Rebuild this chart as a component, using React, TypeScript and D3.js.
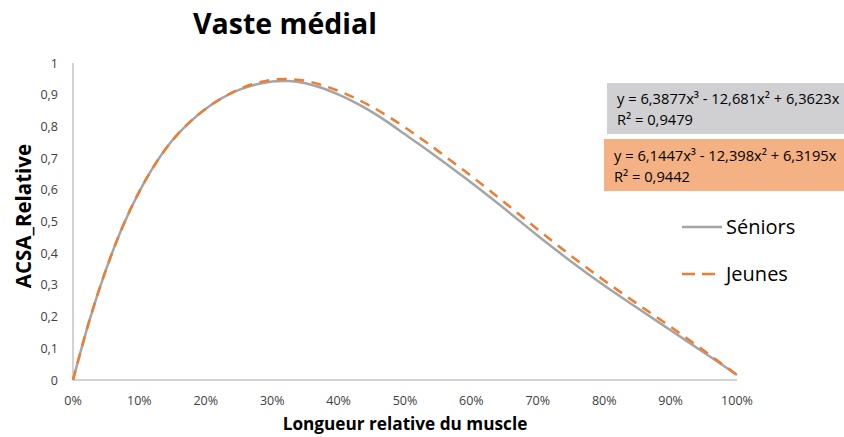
import React from "react";
import * as d3 from "d3";

const xValues = [0, 0.025, 0.05, 0.075, 0.1, 0.125, 0.15, 0.175, 0.2, 0.225, 0.25, 0.275, 0.3, 0.325, 0.35, 0.375, 0.4, 0.425, 0.45, 0.475, 0.5, 0.525, 0.55, 0.6, 0.65, 0.7, 0.75, 0.8, 0.85, 0.9, 0.95, 1.0];
const seniors = [0, 0.19, 0.35, 0.485, 0.595, 0.685, 0.757, 0.812, 0.856, 0.89, 0.915, 0.932, 0.942, 0.943, 0.936, 0.921, 0.9, 0.875, 0.846, 0.812, 0.775, 0.738, 0.7, 0.622, 0.54, 0.455, 0.374, 0.298, 0.227, 0.157, 0.087, 0.016];
const jeunes = [0, 0.19, 0.35, 0.485, 0.595, 0.685, 0.757, 0.812, 0.856, 0.89, 0.917, 0.936, 0.947, 0.949, 0.944, 0.93, 0.912, 0.889, 0.862, 0.831, 0.797, 0.76, 0.722, 0.643, 0.56, 0.475, 0.392, 0.314, 0.24, 0.168, 0.093, 0.016];
const yTicks = [0, 0.1, 0.2, 0.3, 0.4, 0.5, 0.6, 0.7, 0.8, 0.9, 1];
const xTicks = [0, 0.1, 0.2, 0.3, 0.4, 0.5, 0.6, 0.7, 0.8, 0.9, 1];
const seriesNames = ["Séniors", "Jeunes"];
const equations = [
  ["y = 6,3877x³ - 12,681x² + 6,3623x", "R² = 0,9479"],
  ["y = 6,1447x³ - 12,398x² + 6,3195x", "R² = 0,9442"],
];
const title = "Vaste médial";
const xTitle = "Longueur relative du muscle";
const yTitle = "ACSA_Relative";

const W = 844, H = 437;
const FONT = "'Open Sans', 'DejaVu Sans', sans-serif";

export default function App() {
  const x = d3.scaleLinear().domain([0, 1]).range([73, 737]);
  const y = d3.scaleLinear().domain([0, 1]).range([380, 63]);
  const line = d3.line<[number, number]>().x(d => x(d[0])).y(d => y(d[1])).curve(d3.curveCatmullRom);
  const sData = xValues.map((v, i) => [v, seniors[i]] as [number, number]);
  const jData = xValues.map((v, i) => [v, jeunes[i]] as [number, number]);
  const fmtY = (v: number) => (v === 0 ? "0" : v === 1 ? "1" : d3.format(".1f")(v).replace(".", ","));
  const fmtX = (v: number) => `${Math.round(v * 100)}%`;

  return (
    <svg width={W} height={H} style={{ position: "absolute", left: 0, top: 0, background: "#fff" }} fontFamily={FONT}>
      <rect width={W} height={H} fill="#fff" />
      <text x={285} y={34} textAnchor="middle" fontSize={28.5} fontWeight="bold" fill="#000">{title}</text>
      <line x1={x(0)} x2={x(0)} y1={y(1)} y2={y(0)} stroke="#a6a6a6" strokeWidth={1} />
      <line x1={x(0)} x2={x(1)} y1={y(0)} y2={y(0)} stroke="#a6a6a6" strokeWidth={1} />
      {yTicks.map(t => (
        <text key={"y" + t} x={58} y={y(t) + 4.5} textAnchor="end" fontSize={12.5} fill="#404040">{fmtY(t)}</text>
      ))}
      {xTicks.map(t => (
        <text key={"x" + t} x={x(t)} y={405} textAnchor="middle" fontSize={12.5} fill="#404040">{fmtX(t)}</text>
      ))}
      <text x={405} y={430} textAnchor="middle" fontSize={17.2} fontWeight="bold" fill="#000">{xTitle}</text>
      <text transform="translate(31,216) rotate(-90)" textAnchor="middle" fontSize={20.5} fontWeight="bold" fill="#000">{yTitle}</text>
      <path d={line(sData) || ""} fill="none" stroke="#a5a5a5" strokeWidth={2.5} />
      <path d={line(jData) || ""} fill="none" stroke="#ed7d31" strokeWidth={2.5} strokeDasharray="10,7.5" />
      <rect x={607} y={83} width={W - 607} height={51} fill="#d0cfd1" />
      <text x={617} y={104} fontSize={14.7} fill="#000">{equations[0][0]}</text>
      <text x={617} y={125} fontSize={14.7} fill="#000">{equations[0][1]}</text>
      <rect x={604} y={139} width={W - 604} height={52} fill="#f4b183" />
      <text x={614} y={161} fontSize={14.7} fill="#000">{equations[1][0]}</text>
      <text x={614} y={182} fontSize={14.7} fill="#000">{equations[1][1]}</text>
      <line x1={682} x2={722} y1={227} y2={227} stroke="#a5a5a5" strokeWidth={2.5} />
      <text x={726} y={234} fontSize={20} fill="#000">{seriesNames[0]}</text>
      <line x1={682} x2={715} y1={274} y2={274} stroke="#ed7d31" strokeWidth={2.5} strokeDasharray="13,7" />
      <text x={726} y={281} fontSize={20} fill="#000">{seriesNames[1]}</text>
    </svg>
  );
}
